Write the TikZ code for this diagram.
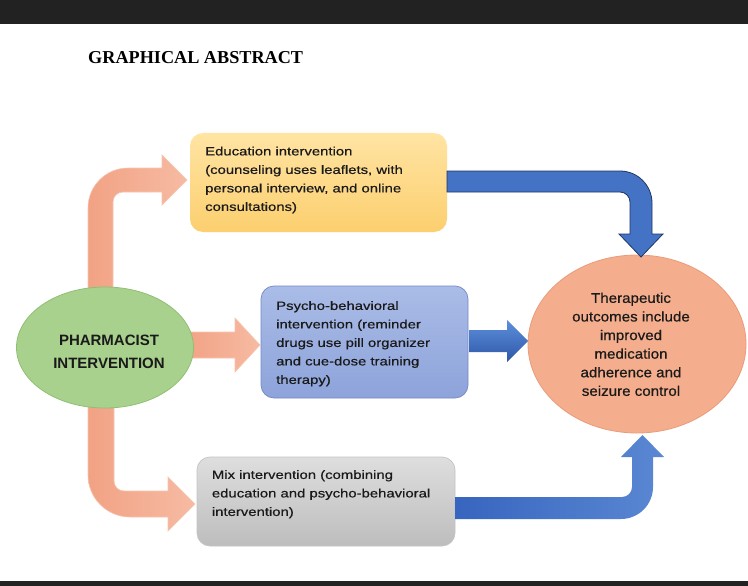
\documentclass[tikz,border=0pt]{standalone}
\usepackage{fontspec}
\setmainfont{Liberation Sans}
\newfontfamily\boxfont[FakeStretch=1.24,FakeBold=0.6]{Liberation Sans}
\newfontfamily\ellfont[FakeStretch=1.08,FakeBold=0.6]{Liberation Sans}
\newfontfamily\titlefont{Liberation Serif}
\usetikzlibrary{shapes.geometric}
\definecolor{barc}{HTML}{222222}
\definecolor{txtc}{HTML}{1A1A1A}
\definecolor{yelT}{HTML}{FFE4A3}
\definecolor{yelB}{HTML}{FCCF6F}
\definecolor{bluT}{HTML}{AABCE7}
\definecolor{bluB}{HTML}{8DA3DA}
\definecolor{bluE}{HTML}{7489C6}
\definecolor{gryT}{HTML}{DEDEDE}
\definecolor{gryB}{HTML}{BDBDBD}
\definecolor{gryE}{HTML}{C4C4C4}
\definecolor{grnF}{HTML}{A9D18E}
\definecolor{grnE}{HTML}{8FBF72}
\definecolor{salF}{HTML}{F4AE8D}
\definecolor{salE}{HTML}{E99C79}
\definecolor{orL}{HTML}{F2A284}
\definecolor{orR}{HTML}{F6BBA3}
\definecolor{orE}{HTML}{F7C6B1}
\definecolor{bA}{HTML}{4472C4}
\definecolor{bAE}{HTML}{1F3864}
\definecolor{bMT}{HTML}{5D8FDC}
\definecolor{bMB}{HTML}{2D57A7}
\definecolor{bBL}{HTML}{3765BF}
\definecolor{bBR}{HTML}{5A88D3}
\begin{document}
\begin{tikzpicture}[x=1pt,y=-1pt,
  boxtext/.style={anchor=north west, inner sep=0pt, align=left, text=txtc,
    font=\boxfont\fontsize{12pt}{18.5pt}\selectfont},
  rbox/.style={rounded corners=13pt, inner sep=0pt, line width=0.7pt},
  oarrow/.style={left color=orL, right color=orR, draw=orE, line width=0.6pt},
]
\useasboundingbox (0,0) rectangle (748,586);
\fill[white] (0,0) rectangle (748,586);
\fill[barc] (0,0) rectangle (748,24);
\fill[barc] (0,581) rectangle (748,586);

\node[anchor=base west, inner sep=0pt] (title) at (88,63.3)
  {\titlefont\bfseries\fontsize{18.2pt}{20pt}\selectfont GRAPHICAL ABSTRACT};

% orange arrows (behind ellipse)
\path[oarrow] (88,300) -- (88,208) arc[start angle=180,end angle=270,radius=40]
  -- (162,168) -- (162,155) -- (187,180) -- (162,205) -- (162,192) -- (123,192)
  arc[start angle=270,end angle=180,radius=10] -- (113,300) -- cycle;
\path[oarrow] (185,332) -- (235,332) -- (235,318) -- (260,345) -- (235,372)
  -- (235,358) -- (185,358) -- cycle;
\path[oarrow] (114,395) -- (114,481) arc[start angle=180,end angle=90,radius=10]
  -- (168,491) -- (168,477) -- (195,504) -- (168,531) -- (168,517) -- (130,517)
  arc[start angle=90,end angle=180,radius=42] -- (88,395) -- cycle;

% left ellipse
\node[ellipse, minimum width=177, minimum height=121, inner sep=0pt,
  fill=grnF, draw=grnE, line width=0.8pt] (pharm) at (105,347.5) {};
\node[anchor=north, inner sep=0pt, align=center, text=txtc,
  font=\bfseries\fontsize{15pt}{22.6pt}\selectfont] (pharmt) at (109,335)
  {PHARMACIST\\INTERVENTION};

% boxes
\node[rbox, minimum width=257, minimum height=99, top color=yelT, bottom color=yelB]
  (edu) at (318.5,182.5) {};
\node[boxtext] (edut) at (205,146.5)
  {Education intervention\\(counseling uses leaflets, with\\personal interview, and online\\consultations)};

\node[rbox, minimum width=207, minimum height=112, top color=bluT, bottom color=bluB, draw=bluE]
  (psy) at (364.5,342) {};
\node[boxtext] (psyt) at (276,301)
  {Psycho-behavioral\\intervention (reminder\\drugs use pill organizer\\and cue-dose training\\therapy)};

\node[rbox, minimum width=258, minimum height=89, top color=gryT, bottom color=gryB, draw=gryE]
  (mix) at (326,501.5) {};
\node[boxtext] (mixt) at (211.7,470)
  {Mix intervention (combining\\education and psycho-behavioral\\intervention)};

% right ellipse
\node[ellipse, minimum width=218, minimum height=178, inner sep=0pt,
  fill=salF, draw=salE, line width=0.8pt] (out) at (637,344) {};
\node[anchor=north, inner sep=0pt, align=center, text=txtc,
  font=\ellfont\fontsize{14pt}{18.6pt}\selectfont] (outt) at (631,292.5)
  {Therapeutic\\outcomes include\\improved\\medication\\adherence and\\seizure control};

% blue arrows
\path[fill=bA, draw=bAE, line width=0.8pt] (447,171) -- (620,171)
  arc[start angle=270,end angle=360,radius=32] -- (652,234) -- (663,234)
  -- (641,257) -- (619,234) -- (630,234) -- (630,202)
  arc[start angle=0,end angle=-90,radius=10] -- (447,192) -- cycle;
\path[top color=bMT, bottom color=bMB] (469,330) -- (507,330) -- (507,320)
  -- (528,341) -- (507,362) -- (507,352) -- (469,352) -- cycle;
\path[left color=bBL, right color=bBR] (455,519) -- (621,519)
  arc[start angle=90,end angle=0,radius=32] -- (653,457) -- (664,457)
  -- (642.5,435) -- (621,457) -- (632,457) -- (632,487)
  arc[start angle=0,end angle=90,radius=10] -- (455,497) -- cycle;
\end{tikzpicture}
\end{document}
